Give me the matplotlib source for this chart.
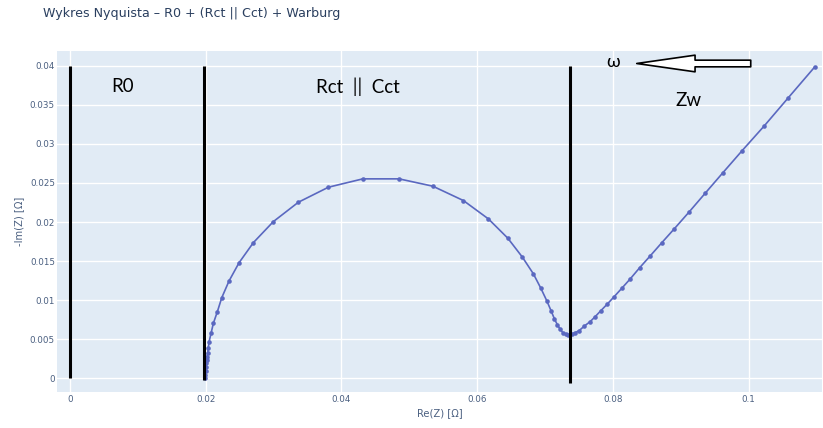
import matplotlib
matplotlib.use("Agg")
import matplotlib.pyplot as plt
from matplotlib.ticker import FuncFormatter, MultipleLocator

# Nyquist points: Re(Z) and -Im(Z) in ohms
re_z = [0.01990, 0.01993, 0.01997, 0.02001, 0.02006, 0.02015, 0.02020, 0.02030,
        0.02038, 0.02049, 0.02078, 0.02112, 0.02171, 0.02236, 0.02343, 0.02491,
        0.02702, 0.02996, 0.03365, 0.03807, 0.04314, 0.04849, 0.05346, 0.05797,
        0.06165, 0.06451, 0.06666, 0.06828, 0.06937, 0.07026, 0.07089, 0.07138,
        0.07182, 0.07222, 0.07262, 0.07306, 0.07344, 0.07394, 0.07443, 0.07502,
        0.07580, 0.07664, 0.07738, 0.07822, 0.07919, 0.08018, 0.08131, 0.08254,
        0.08391, 0.08548, 0.08721, 0.08906, 0.09123, 0.09359, 0.09614, 0.09904,
        0.10229, 0.10578, 0.10970]
neg_im_z = [0.00000, 0.00040, 0.00090, 0.00140, 0.00190, 0.00234, 0.00277, 0.00328,
            0.00392, 0.00469, 0.00576, 0.00704, 0.00853, 0.01032, 0.01246, 0.01480,
            0.01737, 0.02006, 0.02254, 0.02446, 0.02553, 0.02553, 0.02459, 0.02275,
            0.02040, 0.01793, 0.01550, 0.01336, 0.01153, 0.00990, 0.00862, 0.00759,
            0.00683, 0.00628, 0.00584, 0.00564, 0.00555, 0.00567, 0.00584, 0.00610,
            0.00670, 0.00725, 0.00789, 0.00866, 0.00952, 0.01045, 0.01153, 0.01272,
            0.01413, 0.01566, 0.01737, 0.01916, 0.02130, 0.02369, 0.02626, 0.02915,
            0.03231, 0.03586, 0.03983]

# Region boundaries (x position, bottom, top) and region labels
boundary_x = [0.0, 0.0198, 0.0737]
boundary_y0 = [0.0, -0.0002, -0.0006]
boundary_y1 = [0.040, 0.040, 0.040]
region_labels = ["R0", "Rct || Cct", "Zw"]
region_label_x = [0.0077, 0.0424, 0.0911]
region_label_y = [0.0374, 0.0373, 0.0356]

title = "Wykres Nyquista \u2013 R0 + (Rct || Cct) + Warburg"
x_label = "Re(Z) [\u03a9]"
y_label = "-Im(Z) [\u03a9]"

W, H = 823, 428
fig = plt.figure(figsize=(W / 100, H / 100), dpi=100)
fig.patch.set_facecolor("white")
left, right, top, bottom = 57, 822, 51, 391.7
ax = fig.add_axes([left / W, 1 - bottom / H, (right - left) / W, (bottom - top) / H])
ax.set_facecolor("#e1ebf5")
for s in ax.spines.values():
    s.set_visible(False)

ax.set_xlim(-0.00192, 0.1108)
ax.set_ylim(-0.00172, 0.0419)
ax.xaxis.set_major_locator(MultipleLocator(0.02))
ax.yaxis.set_major_locator(MultipleLocator(0.005))
fmt = FuncFormatter(lambda v, p: "0" if abs(v) < 1e-12 else ("%g" % round(v, 6)))
ax.xaxis.set_major_formatter(fmt)
ax.yaxis.set_major_formatter(fmt)
ax.grid(True, color="white", lw=1.0)
ax.set_axisbelow(True)
ax.tick_params(axis="x", length=0, labelsize=6.3, colors="#4a5f80", pad=2.5)
ax.tick_params(axis="y", length=0, labelsize=6.3, colors="#4a5f80", pad=1.5)
for lab in ax.get_xticklabels() + ax.get_yticklabels():
    lab.set_family("DejaVu Sans")

ax.set_xlabel(x_label, fontsize=7.2, color="#4a5f80", labelpad=3)
ax.set_ylabel(y_label, fontsize=7.2, color="#4a5f80", labelpad=4)

ax.plot(re_z, neg_im_z, color="#5a68c0", lw=1.2, marker="o", ms=3.3,
        markeredgewidth=0, zorder=3)

for bx, b0, b1 in zip(boundary_x, boundary_y0, boundary_y1):
    ax.plot([bx, bx], [b0, b1], color="black", lw=2.2, solid_capstyle="butt", zorder=4)

for t, tx, ty in zip(region_labels, region_label_x, region_label_y):
    ax.text(tx, ty, t.replace(" || ", "  ||  "), fontsize=13.5, family="Lato",
            color="black", ha="center", va="center", zorder=5)

# Frequency direction marker
ax.text(0.0800, 0.0405, "\u03c9", fontsize=13, family="Lato", ha="center",
        va="center", zorder=5)
ax.annotate("", xy=(0.0835, 0.0403), xytext=(0.1003, 0.0403),
            arrowprops=dict(arrowstyle="simple,head_length=2.1,head_width=0.6,tail_width=0.24",
                            mutation_scale=20, fc="white", ec="black", lw=1.2,
                            shrinkA=0, shrinkB=0),
            zorder=5, annotation_clip=False)

fig.text(43 / W, 1 - 13 / H, title, fontsize=9.1, color="#2a3f5f",
         family="DejaVu Sans", ha="left", va="center")

fig.savefig("out.png", dpi=100)
